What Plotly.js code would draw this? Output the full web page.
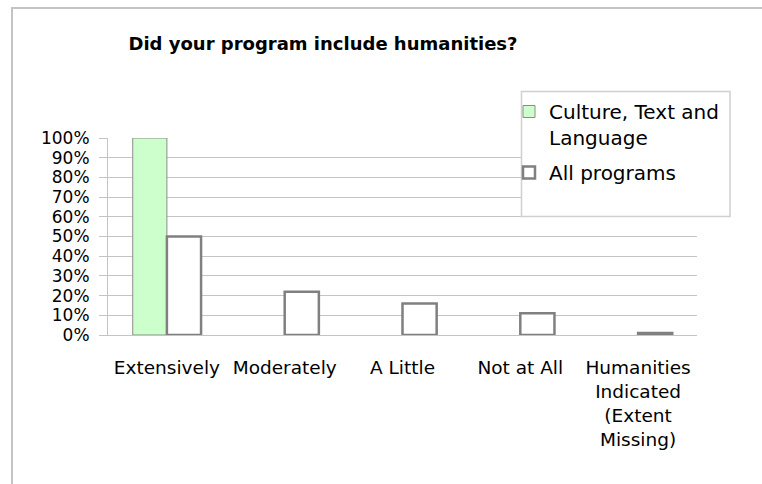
<!DOCTYPE html>
<html>
<head>
<meta charset="utf-8">
<script src="https://cdn.plot.ly/plotly-3.0.1.min.js"></script>
<style>
  html, body { margin: 0; padding: 0; background: #ffffff; }
  #wrap { position: relative; width: 762px; height: 484px; overflow: hidden; }
  #chart { position: absolute; left: 0; top: 0; width: 762px; height: 484px; }
  #frame { position: absolute; left: 11px; top: 7px; width: 800px; height: 600px;
           border-left: 2px solid #c4c4c4; border-top: 2px solid #c4c4c4; pointer-events: none; }
</style>
</head>
<body>
<div id="wrap">
  <div id="chart"></div>
  <div id="frame"></div>
</div>
<script>
// ---- data ----
const categories = ["Extensively", "Moderately", "A Little", "Not at All", "Humanities Indicated (Extent Missing)"];
const tickLabels = ["Extensively", "Moderately", "A Little", "Not at All", "Humanities<br>Indicated<br>(Extent<br>Missing)"];
const seriesNames = ["Culture, Text and<br>Language", "All programs"];
const cultureValues = [1.00, 0.00, 0.00, 0.00, 0.00];
const allProgramsValues = [0.50, 0.22, 0.16, 0.11, 0.01];
const chartTitle = "Did your program include humanities?";

// ---- layout constants (pixels) ----
const W = 762, H = 484;
const plotL = 108, plotR = 697, plotT = 138, plotB = 335;
const pw = plotR - plotL, ph = plotB - plotT;
const px2x = v => (v - plotL) / pw;
const py2y = v => (plotB - v) / ph;

const FONT = "DejaVu Sans, Verdana, sans-serif";
const GRID = "#c4c4c4";

const traces = [
  {
    type: "bar",
    name: seriesNames[0],
    legendgroup: "g1",
    x: categories,
    y: cultureValues,
    marker: { color: "#ccffcc", line: { color: "#8c8c8c", width: cultureValues.map(v => v > 0 ? 1 : 0) } },
    hoverinfo: "skip"
  },
  {
    type: "bar",
    name: seriesNames[1],
    legendgroup: "g2",
    x: categories,
    y: allProgramsValues,
    marker: { color: "#ffffff", line: { color: "#808080", width: allProgramsValues.map(v => v > 0 ? 2.5 : 0) } },
    hoverinfo: "skip"
  }
];

const layout = {
  width: W, height: H,
  margin: { l: plotL, r: W - plotR, t: plotT, b: H - plotB, pad: 0 },
  paper_bgcolor: "#ffffff",
  plot_bgcolor: "#ffffff",
  font: { family: FONT, color: "#000000", size: 17 },
  barmode: "group",
  bargap: 0.42,
  bargroupgap: 0,
  showlegend: true,
  title: {
    text: "<b>" + chartTitle + "</b>",
    font: { family: FONT, size: 18, color: "#000000" },
    xref: "container", yref: "container",
    x: 323 / W, xanchor: "center",
    y: 1 - 44 / H, yanchor: "middle"
  },
  xaxis: {
    type: "category",
    categoryorder: "array",
    categoryarray: categories,
    tickvals: categories,
    ticktext: tickLabels,
    range: [-0.5, 4.5],
    showline: true, linecolor: GRID, linewidth: 1,
    showgrid: false, zeroline: false,
    ticks: "",
    tickfont: { family: FONT, size: 18.5, color: "#000000" },
    ticklabelstandoff: 16
  },
  yaxis: {
    range: [0, 1],
    dtick: 0.1,
    tick0: 0,
    tickformat: ".0%",
    showline: true, linecolor: GRID, linewidth: 1,
    showgrid: true, gridcolor: GRID, gridwidth: 1,
    zeroline: false,
    ticks: "outside", ticklen: 8, tickcolor: GRID, tickwidth: 1,
    tickfont: { family: FONT, size: 17, color: "#000000" },
    ticklabelstandoff: 6
  },
  legend: {
    x: px2x(509), xanchor: "left",
    y: py2y(92), yanchor: "top",
    bgcolor: "rgba(0,0,0,0)",
    borderwidth: 0,
    font: { family: FONT, size: 20, color: "#000000" },
    valign: "top",
    tracegroupgap: 6,
    traceorder: "grouped"
  },
  shapes: [
    {
      type: "rect", xref: "paper", yref: "paper", layer: "above",
      x0: px2x(521.5), x1: px2x(730), y0: py2y(216.5), y1: py2y(91.5),
      fillcolor: "#ffffff",
      line: { color: "#d0d0d0", width: 1.5 }
    }
  ]
};

Plotly.newPlot("chart", traces, layout, { staticPlot: true, displayModeBar: false });
</script>
</body>
</html>
